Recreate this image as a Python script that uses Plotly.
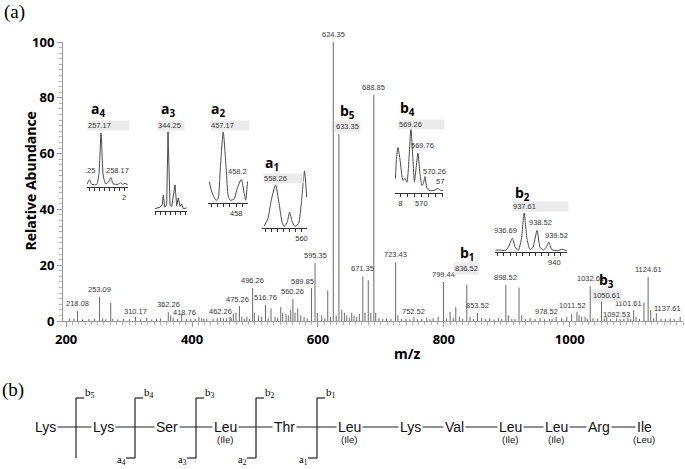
import numpy as np
import plotly.graph_objects as go

# ---------------- spectrum (m/z, relative abundance) ----------------
spectrum_mz = [205.5, 212.5, 218.08, 226, 236, 245.3, 253.09, 258.0, 263, 270.8, 274.0, 282, 291, 300.5,
               310.17, 318, 328.0, 336, 343.5, 350, 362.26, 366.0, 370.0, 377, 383.6, 391, 398, 405, 411.0,
               415.4, 418.76, 423.3, 433.4, 440, 445, 450, 455, 460.3, 462.26, 465.6, 469.8, 475.26, 479.0,
               483, 487.0, 491, 496.26, 499.0, 505.4, 510.7, 516.76, 521, 525.5, 531.8, 536, 540.9, 544.0,
               549.3, 553.0, 556.8, 560.26, 563.6, 567.9, 572.7, 578.0, 583, 589.85, 595.35, 599.0, 606.0,
               611, 615.6, 620, 624.35, 629, 633.35, 637.8, 642.0, 645.7, 650, 653.7, 657.3, 661.6, 665.8,
               671.35, 674.8, 680.0, 684.0, 688.85, 691.8, 697, 703, 709.0, 716, 723.43, 727.0, 733, 740,
               746, 752.52, 758, 765, 772.9, 778, 783.0, 791.0, 799.44, 804, 810.0, 815, 819.0, 824.7, 830,
               836.52, 841.6, 847, 853.52, 860.0, 866, 873.0, 880, 886.7, 892, 898.52, 902.5, 908, 913,
               919.5, 923.8, 930, 937.0, 945, 952.9, 960, 968, 972, 978.52, 987.3, 995.3, 1003.0, 1011.52,
               1014.8, 1019.0, 1024.4, 1028, 1032.61, 1037, 1044, 1050.61, 1055, 1058.8, 1065, 1074.7, 1080,
               1086, 1092.53, 1097, 1101.61, 1105.4, 1111, 1118.0, 1124.61, 1128.7, 1133, 1137.61, 1145,
               1152, 1159.5, 1166, 1175.5]
spectrum_int = [0.8, 0.9, 3.5, 0.6, 0.7, 0.8, 8.7, 1.0, 0.6, 6.5, 0.8, 0.6, 0.7, 0.6,
                1.5, 0.6, 1.2, 0.6, 0.8, 0.9, 3.2, 2.0, 1.2, 0.7, 2.5, 0.8, 0.7, 0.8, 1.5,
                1.0, 0.8, 0.8, 0.8, 1.0, 1.1, 0.9, 1.0, 1.5, 1.2, 2.5, 3.0, 5.4, 1.5,
                0.8, 1.5, 0.8, 11.8, 3.0, 2.0, 1.5, 5.7, 1.0, 4.5, 1.5, 1.2, 5.0, 3.0,
                2.5, 2.0, 4.0, 7.9, 3.0, 4.5, 2.0, 1.5, 1.0, 11.8, 20.8, 3.0, 2.0,
                1.0, 11.0, 1.5, 100, 2.0, 67, 4.0, 3.0, 2.0, 1.2, 3.0, 2.0, 1.5, 2.5,
                16, 3.0, 14.6, 3.0, 81, 3.0, 1.0, 0.7, 1.0, 0.8, 21, 2.0, 0.7, 0.8,
                0.6, 1.5, 0.7, 0.8, 1.2, 0.7, 1.0, 1.5, 14, 1.0, 3.3, 1.2, 5.0, 1.5, 0.8,
                13, 1.5, 0.7, 2.8, 1.0, 0.7, 1.0, 0.6, 1.0, 0.7, 13, 2.0, 0.8, 0.7,
                12, 2.0, 0.7, 1.0, 0.7, 1.0, 0.6, 0.7, 0.8, 1.5, 1.0, 1.5, 2.5, 3.3,
                2.0, 1.5, 1.5, 0.8, 12.5, 1.0, 0.8, 6.8, 1.0, 1.5, 0.7, 1.0, 0.7,
                0.8, 1.2, 0.8, 3.9, 1.5, 0.8, 6.5, 15.8, 4.0, 1.0, 2.8, 0.8,
                0.7, 1.0, 0.7, 1.5]

peak_labels = ['218.08', '253.09', '310.17', '362.26', '418.76', '462.26', '475.26', '496.26', '516.76',
               '560.26', '589.85', '595.35', '624.35', '671.35', '688.85', '723.43', '752.52', '799.44',
               '853.52', '898.52', '978.52', '1011.52', '1032.61', '1092.53', '1101.61', '1124.61', '1137.61']

fragment_mz = [633.35, 836.52, 1050.61]
fragment_ion = ['b', 'b', 'b']
fragment_no = ['5', '1', '3']

# ---------------- zoomed isotope windows ----------------
inset_ion = ['a', 'a', 'a', 'a', 'b', 'b']
inset_no = ['4', '3', '2', '1', '4', '2']
inset_peak = ['257.17', '344.25', '457.17', '558.26', '569.26', '937.61']

a4_mz = [255.74, 256.0, 256.24, 256.74, 256.97, 257.17, 257.4, 257.64, 257.9, 258.17, 258.4, 258.87,
         259.14, 259.37, 259.6, 259.87]
a4_int = [2, 11, 2, 2, 25, 100, 18, 3, 6, 15, 3, 2, 5, 2, 4, 1]
a3_mz = [342.95, 343.45, 343.68, 343.78, 343.92, 344.12, 344.25, 344.45, 344.62, 344.78, 344.95, 345.12,
         345.28, 345.45, 345.62, 345.78, 346.12]
a3_int = [0, 2, 5, 18, 2, 5, 100, 5, 3, 20, 31, 4, 14, 3, 6, 0, 1]
a2_mz = [456.28, 456.47, 456.72, 456.85, 456.98, 457.17, 457.36, 457.49, 457.62, 457.87, 458.06, 458.32,
         458.51, 458.6, 458.72]
a2_int = [28, 11, 1, 4, 46, 100, 46, 7, 1, 3, 18, 31, 11, 1, 28]
a1_mz = [557.5, 557.75, 557.95, 558.26, 558.5, 558.7, 558.85, 559.05, 559.2, 559.38, 559.55, 559.8,
         560.0, 560.2, 560.35]
a1_int = [2, 20, 60, 100, 55, 10, 1, 12, 35, 12, 1, 8, 60, 133, 70]
b4_mz = [568.15, 568.22, 568.33, 568.47, 568.69, 568.83, 568.97, 569.12, 569.26, 569.4, 569.51, 569.62,
         569.76, 569.9, 570.05, 570.15, 570.26, 570.4, 570.55, 570.9, 571.19, 571.4, 571.55]
b4_int = [20, 50, 69, 51, 17, 20, 14, 51, 100, 51, 15, 35, 60, 28, 9, 12, 23, 5, 1, 1, 4, 1, 1]
b2_mz = [935.34, 935.73, 936.13, 936.36, 936.67, 936.9, 937.14, 937.38, 937.61, 937.84, 938.08, 938.31,
         938.63, 938.86, 939.1, 939.33, 939.56, 939.8, 940.27, 940.58, 940.97]
b2_int = [2, 2, 1, 10, 33, 10, 1, 30, 100, 30, 3, 10, 54, 10, 2, 8, 23, 3, 1, 4, 1]

inset_mz = [a4_mz, a3_mz, a2_mz, a1_mz, b4_mz, b2_mz]
inset_int = [a4_int, a3_int, a2_int, a1_int, b4_int, b2_int]
inset_ranges = [[255.75, 259.9], [342.95, 346.15], [456.2, 458.75], [557.35, 560.37],
                [568.12, 571.55], [935.3, 941.0]]
inset_ymax = [100, 100, 100, 133, 100, 100]
inset_dtick = [0.5, 0.5, 0.4, 0.4, 0.5, 0.5]
inset_ticklabels = [{259.5: '2'}, {}, {458.0: '458'}, {560.0: '560'}, {568.5: '8', 570.0: '570'},
                    {940.0: '940'}]
# side labels inside windows: (peak m/z, text)
inset_side = [[(256.0, '.25'), (258.17, '258.17')], [], [(458.32, '458.2')], [],
              [(569.76, '569.76'), (570.26, '570.26'), (571.19, '57')],
              [(936.67, '936.69'), (938.63, '938.52'), (939.56, '939.52')]]

# ---------------- peptide sequence (panel b) ----------------
residues = ['Lys', 'Lys', 'Ser', 'Leu', 'Thr', 'Leu', 'Lys', 'Val', 'Leu', 'Leu', 'Arg', 'Ile']
residue_alt = ['', '', '', '(Ile)', '', '(Ile)', '', '', '(Ile)', '(Ile)', '', '(Leu)']
b_cuts = ['5', '4', '3', '2', '1']
a_cuts = ['', '4', '3', '2', '1']

# ---------------- layout helpers (pixels -> paper) ----------------
L, T, W, H = 63, 42, 620, 279


def fx(p):
    return (p - L) / W


def fy(p):
    return (T + H - p) / H


GRAY = '#6a6a6a'
LABEL = dict(family='Liberation Sans', size=7.5, color='#3a3a3a')
BOLD = dict(family='Open Sans', size=14, color='black', weight='bold')

fig = go.Figure()

xs, ys = [], []
for m, v in zip(spectrum_mz, spectrum_int):
    xs += [m, m, None]
    ys += [0, v, None]
fig.add_trace(go.Scatter(x=xs, y=ys, mode='lines', line=dict(color=GRAY, width=1),
                         hoverinfo='skip'))

annotations = []
heights = dict(zip(spectrum_mz, spectrum_int))
nudge = {'418.76': (-19, 0), '462.26': (-11, 0), '475.26': (-2, 0), '589.85': (-9, 0),
         '978.52': (-10, -1), '1011.52': (-4, 0), '1092.53': (-11, -3), '1101.61': (-5, 0),
         '1137.61': (11, -2), '310.17': (0, -1), '752.52': (0, -1)}
for t in peak_labels:
    dx, dy = nudge.get(t, (0, 1))
    annotations.append(dict(x=float(t), y=heights[float(t)], text=t, showarrow=False, font=LABEL,
                            xanchor='center', yanchor='bottom', xshift=dx, yshift=dy))

frag_shift = [(9, 1), (0, 10), (5, 0)]
for m, ion, n, (dx, dy) in zip(fragment_mz, fragment_ion, fragment_no, frag_shift):
    annotations.append(dict(x=m, y=heights[m], text=f'{m:.2f}', showarrow=False, font=LABEL,
                            bgcolor='#ebebeb', borderpad=1, xanchor='center', yanchor='bottom',
                            xshift=dx, yshift=dy))
    annotations.append(dict(x=m, y=heights[m], text=f'<b>{ion}<sub>{n}</sub></b>', showarrow=False,
                            font=BOLD, xanchor='center', yanchor='bottom', xshift=dx, yshift=dy + 9))

# inset windows in pixels: x0, x1, axis line y, top y
inset_px = [(87, 128, 187, 133), (155, 187, 211, 132), (208, 248, 203, 132), (262, 307, 228, 171),
            (395, 443, 193, 128), (495, 567, 252, 213)]
name_px = [(98, 110), (168, 109), (218, 110), (272, 163), (407, 108), (522, 193)]
box_px = [(87, 128, 125), (157, 183, 126), (210, 248, 126), (263, 302, 178), (398, 443, 124),
          (512, 567, 206)]
side_shift = [[(1, 3), (7, 1)], [], [(-4, 2)], [], [(5, 1), (10, -1), (2, 1)],
              [(-7, 1), (3, 1), (8, 0)]]

axes = {}
for i in range(6):
    k = i + 2
    x0, x1, yb, yt = inset_px[i]
    fig.add_trace(go.Scatter(x=inset_mz[i], y=inset_int[i], mode='lines', xaxis=f'x{k}', yaxis=f'y{k}',
                             line=dict(color='#4a4a4a', width=1,
                                       shape='linear' if i == 1 else 'spline', smoothing=0.6),
                             hoverinfo='skip'))
    lo, hi = inset_ranges[i]
    tv = list(np.arange(np.ceil(lo / inset_dtick[i]) * inset_dtick[i], hi, inset_dtick[i]).round(2))
    tt = [inset_ticklabels[i].get(v, '') for v in tv]
    axes[f'xaxis{k}'] = dict(domain=[fx(x0), fx(x1)], range=[lo, hi], anchor=f'y{k}', showline=True,
                             linecolor='#333', linewidth=1, ticks='outside', ticklen=3,
                             tickcolor='#333', tickmode='array', tickvals=tv, ticktext=tt,
                             tickfont=dict(family='Liberation Sans', size=7.5, color='#333'),
                             showgrid=False, zeroline=False)
    ymax = inset_ymax[i]
    axes[f'yaxis{k}'] = dict(domain=[fy(yb), fy(yt)], range=[-3, ymax], anchor=f'x{k}', visible=False)

    nx, ny = name_px[i]
    annotations.append(dict(xref='paper', yref='paper', x=fx(nx), y=fy(ny),
                            text=f'<b>{inset_ion[i]}<sub>{inset_no[i]}</sub></b>', showarrow=False,
                            font=BOLD, xanchor='center', yanchor='middle'))
    bx0, bx1, by = box_px[i]
    annotations.append(dict(xref='paper', yref='paper', x=fx(bx0), y=fy(by), text=inset_peak[i],
                            showarrow=False, font=LABEL, bgcolor='#ebebeb', width=bx1 - bx0, height=9,
                            align='left', xanchor='left', yanchor='middle', borderpad=0))
    pk = dict(zip(inset_mz[i], inset_int[i]))
    for (m, t), (dx, dy) in zip(inset_side[i], side_shift[i]):
        annotations.append(dict(xref=f'x{k}', yref=f'y{k}', x=m, y=pk[m], text=t, showarrow=False,
                                font=LABEL, xanchor='center', yanchor='bottom', xshift=dx, yshift=dy))

# axis titles and panel letters
annotations.append(dict(xref='paper', yref='paper', x=fx(30), y=0.5, text='Relative Abundance',
                        textangle=-90, showarrow=False, xanchor='center', yanchor='middle',
                        font=dict(family='Open Sans', size=14, color='black', weight='bold')))
annotations.append(dict(xref='paper', yref='paper', x=fx(408), y=fy(353), text='m/z', showarrow=False,
                        xanchor='center', yanchor='middle',
                        font=dict(family='Open Sans', size=14, color='black', weight='bold')))
for txt, (px_, py_) in [('(a)', (14, 12)), ('(b)', (13, 390))]:
    annotations.append(dict(xref='paper', yref='paper', x=fx(px_), y=fy(py_), text=txt, showarrow=False,
                            xanchor='center', yanchor='middle',
                            font=dict(family='Liberation Serif', size=19, color='black')))

# panel b: sequence
residue_px = [45, 103, 167, 225, 284, 349, 410, 454, 510, 556, 599, 644]
cleave_px = [76, 135, 196, 256, 317]
ROW, TOP, BOT = 427, 398, 458
shapes = [dict(type='line', xref='paper', yref='paper', x0=fx(57), x1=fx(636), y0=fy(ROW), y1=fy(ROW),
               line=dict(color='#222', width=1.2))]
for c, b, a in zip(cleave_px, b_cuts, a_cuts):
    shapes.append(dict(type='line', xref='paper', yref='paper', x0=fx(c), x1=fx(c), y0=fy(TOP),
                       y1=fy(BOT), line=dict(color='#222', width=1.2)))
    shapes.append(dict(type='line', xref='paper', yref='paper', x0=fx(c), x1=fx(c + 8), y0=fy(TOP),
                       y1=fy(TOP), line=dict(color='#222', width=1.2)))
    annotations.append(dict(xref='paper', yref='paper', x=fx(c + 7), y=fy(393), text=f'b<sub>{b}</sub>',
                            showarrow=False, xanchor='left', yanchor='middle',
                            font=dict(family='Liberation Serif', size=11, color='black')))
    if a:
        shapes.append(dict(type='line', xref='paper', yref='paper', x0=fx(c - 9), x1=fx(c), y0=fy(BOT),
                           y1=fy(BOT), line=dict(color='#222', width=1.2)))
        annotations.append(dict(xref='paper', yref='paper', x=fx(c - 7), y=fy(461),
                                text=f'a<sub>{a}</sub>', showarrow=False, xanchor='right',
                                yanchor='middle',
                                font=dict(family='Liberation Serif', size=10.5, color='black')))
for r, p in zip(residues, residue_px):
    annotations.append(dict(xref='paper', yref='paper', x=fx(p), y=fy(ROW), text=r, showarrow=False,
                            bgcolor='white', borderpad=1, xanchor='center', yanchor='middle',
                            font=dict(family='Liberation Sans', size=14, color='#111')))
for r, p in zip(residue_alt, residue_px):
    if r:
        annotations.append(dict(xref='paper', yref='paper', x=fx(p), y=fy(439), text=r,
                                showarrow=False, xanchor='center', yanchor='middle',
                                font=dict(family='Liberation Sans', size=9.5, color='#111')))

fig.update_layout(
    width=685, height=469,
    margin=dict(l=L, r=685 - L - W, t=T, b=469 - T - H),
    plot_bgcolor='white', paper_bgcolor='white',
    showlegend=False,
    xaxis=dict(range=[195, 1180], tick0=0, dtick=200, showline=True, linecolor='#9a9a9a',
               ticks='outside', ticklen=5, tickcolor='#9a9a9a', showgrid=False, zeroline=False,
               ticklabelstandoff=1,
               minor=dict(ticks='outside', ticklen=3, dtick=10, tick0=0, tickcolor='#b5b5b5'),
               tickfont=dict(family='Open Sans', size=13, color='black', weight='bold')),
    yaxis=dict(range=[0, 100], tick0=0, dtick=20, showline=True, linecolor='#9a9a9a',
               ticks='outside', ticklen=5, tickcolor='#9a9a9a', showgrid=False, zeroline=False,
               minor=dict(ticks='outside', ticklen=3, dtick=2, tick0=0, tickcolor='#b5b5b5'),
               tickfont=dict(family='Open Sans', size=13, color='black', weight='bold')),
    annotations=annotations,
    shapes=shapes,
    **axes,
)

# the page body has a default 8px margin; drop it so the figure sits at the window origin
fig.write_html("out.html", config={'displayModeBar': False},
               post_script="document.body.style.margin='0px';")
